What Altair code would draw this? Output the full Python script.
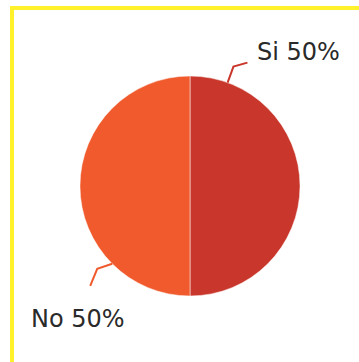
import altair as alt
import pandas as pd
import math

categories = ["Si", "No"]
values = [50, 50]
colors = ["#C9372C", "#F05A2C"]

W, H = 359, 362
CX, CY, R = 190, 186, 110

df = pd.DataFrame({"cat": categories, "val": values, "order": [0, 1]})
df["label"] = [f"{c} {v}%" for c, v in zip(categories, values)]

# layout: leader angles (deg, clockwise from top) and label anchors
lead_angle = {"Si": 20, "No": 225}
rows = []
for c in categories:
    a = math.radians(lead_angle[c])
    x0, y0 = CX + R * math.sin(a), CY - R * math.cos(a)
    if c == "Si":
        x1, y1 = CX + (R + 17) * math.sin(a), CY - (R + 17) * math.cos(a)
        x2, y2 = x1 + 14, y1 - 4
    else:
        x1, y1 = x0 - 15, y0 + 5
        x2, y2 = x1 - 7, y1 + 17
    for i, (px, py) in enumerate([(x0, y0), (x1, y1), (x2, y2)]):
        rows.append({"cat": c, "px": px, "py": py, "i": i})
lead = pd.DataFrame(rows)

lab = df.copy()
lab["px"] = [257, 31]
lab["py"] = [60, 327]

xs = alt.Scale(domain=[0, W], range=[0, W])
ys = alt.Scale(domain=[0, H], range=[0, H])
cscale = alt.Scale(domain=categories, range=colors)

pie = alt.Chart(df).mark_arc(radius=R, stroke="#ffffff", strokeWidth=0.5).encode(
    theta=alt.Theta("val:Q", stack=True),
    order=alt.Order("order:Q"),
    color=alt.Color("cat:N", scale=cscale, legend=None),
    x=alt.value(CX),
    y=alt.value(CY),
)

lines = alt.Chart(lead).mark_line(strokeWidth=2).encode(
    x=alt.X("px:Q", scale=xs, axis=None),
    y=alt.Y("py:Q", scale=ys, axis=None),
    detail="cat:N",
    order="i:Q",
    color=alt.Color("cat:N", scale=cscale, legend=None),
)

texts = alt.Chart(lab).mark_text(
    font="DejaVu Sans", fontSize=24, align="left",
    baseline="alphabetic", color="#2a2a2a"
).encode(
    x=alt.X("px:Q", scale=xs, axis=None),
    y=alt.Y("py:Q", scale=ys, axis=None),
    text="label:N",
)

border = alt.Chart(pd.DataFrame({"a": [0]})).mark_rect(
    fill=None, stroke="#FFF22A", strokeWidth=4
).encode(x=alt.value(12), x2=alt.value(W + 20), y=alt.value(8), y2=alt.value(H + 20))

chart = alt.layer(border, pie, lines, texts).properties(
    width=W, height=H, padding=0, autosize=alt.AutoSizeParams(type="none")
).configure_view(stroke=None).resolve_scale(color="shared")

chart.save("out.html", embed_options={"renderer": "svg", "actions": False})
